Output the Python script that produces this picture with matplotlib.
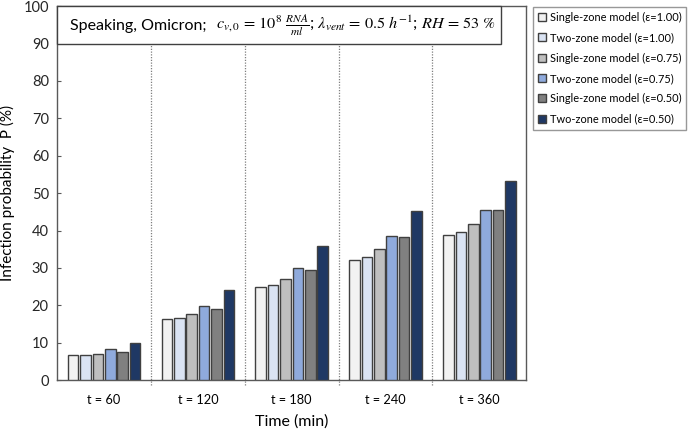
import numpy as np
import matplotlib.pyplot as plt
from matplotlib.patches import Patch, Rectangle

plt.rcParams['font.family'] = ['Lato', 'DejaVu Sans']
plt.rcParams['mathtext.fontset'] = 'stix'

categories = ['t = 60', 't = 120', 't = 180', 't = 240', 't = 360']
series_names = ['Single-zone model (ε=1.00)', 'Two-zone model (ε=1.00)',
                'Single-zone model (ε=0.75)', 'Two-zone model (ε=0.75)',
                'Single-zone model (ε=0.50)', 'Two-zone model (ε=0.50)']
single_100 = [6.8, 16.4, 24.9, 32.2, 38.7]
two_100 = [6.8, 16.6, 25.4, 32.8, 39.5]
single_075 = [7.1, 17.6, 27.0, 35.0, 41.8]
two_075 = [8.4, 19.9, 30.0, 38.5, 45.6]
single_050 = [7.6, 19.1, 29.4, 38.2, 45.4]
two_050 = [10.0, 24.0, 35.9, 45.3, 53.3]
series = [single_100, two_100, single_075, two_075, single_050, two_050]
colors = ['#F2F2F2', '#DAE3F3', '#BFBFBF', '#8FAADC', '#808080', '#1F3864']

fig = plt.figure(figsize=(6.88, 4.32), dpi=100)
ax = fig.add_axes([0.083, 0.12, 0.682, 0.866])

x = np.arange(len(categories))
slot = 0.132
width = 0.113
for i, (vals, col) in enumerate(zip(series, colors)):
    ax.bar(x + (i - 2.5) * slot, vals, width, color=col,
           edgecolor='#404040', linewidth=1.0, zorder=3)

ax.set_xlim(-0.5, len(categories) - 0.5)
ax.set_ylim(0, 100)
ax.set_yticks(np.arange(0, 101, 10))
ax.set_xticks(x)
ax.set_xticklabels(categories, fontsize=9.2)
ax.tick_params(axis='x', length=0, pad=10)
ax.tick_params(axis='y', direction='in', length=3, labelsize=10.5, pad=6,
               color='#595959', labelcolor='#262626')
for s in ax.spines.values():
    s.set_color('#595959')
    s.set_linewidth(1.0)

# dotted separators between groups
for b in np.arange(0.5, len(categories) - 0.5, 1.0):
    ax.plot([b, b], [-1.2, 100], ls=(0, (1, 1.2)), color='#7f7f7f', lw=0.9,
            clip_on=False, zorder=1)

ax.set_ylabel('Infection probability  P (%)', fontsize=11, labelpad=6)
ax.set_xlabel('Time (min)', fontsize=11.5, labelpad=6)

# title box
ax.add_patch(Rectangle((0, 0.898), 0.945, 0.102, transform=ax.transAxes,
                       fc='white', ec='#404040', lw=1.0, zorder=6, clip_on=False))
t1 = ax.text(0.028, 0.948, 'Speaking, Omicron;', transform=ax.transAxes,
             fontsize=11.5, va='center', ha='left', zorder=7)
math = (r'$c_{v,0}\,=\,10^{8}\ \frac{RNA}{ml}$; '
        r'$\lambda_{vent}\,=\,0.5\ h^{-1}$; $RH\,=\,53\ \%$')
ax.annotate(math, xy=(1, 0.5), xycoords=t1, xytext=(7, 0),
            textcoords='offset points', fontsize=11.7, va='center', ha='left',
            zorder=7)

handles = [Patch(facecolor=c, edgecolor='#404040', linewidth=1.0) for c in colors]
leg = fig.legend(handles, series_names, loc='upper left',
                 bbox_to_anchor=(0.775, 0.984), fontsize=7.9, frameon=True,
                 fancybox=False, edgecolor='#7f7f7f', handlelength=0.75,
                 handleheight=0.75, handletextpad=0.3, labelspacing=0.85,
                 borderpad=0.45, borderaxespad=0)
leg.get_frame().set_linewidth(1.0)

fig.savefig('out.png', dpi=100)
